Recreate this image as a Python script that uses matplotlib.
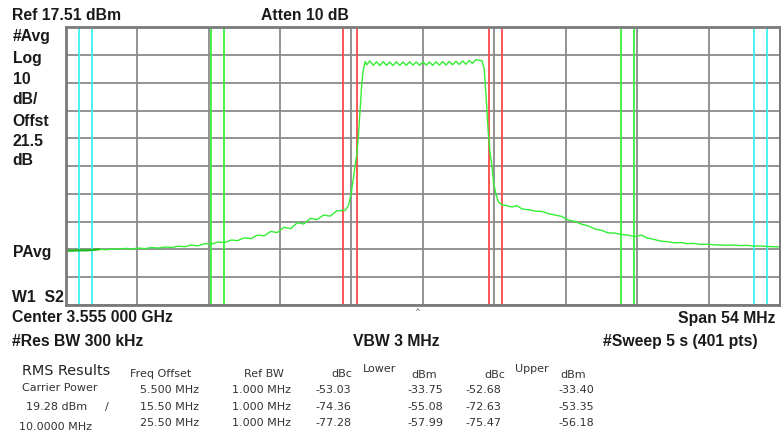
import matplotlib.pyplot as plt
import numpy as np

# trace: frequency offset from center (MHz) and level (dBm)
freq = [-27, -26.5, -26, -25.5, -25, -24.5, -24, -23.5, -23, -22.5, -22, -21.5,
        -21, -20.5, -20, -19.5, -19, -18.5, -18, -17.5, -17, -16.5, -16, -15.5,
        -15, -14.5, -14, -13.5, -13, -12.5, -12, -11.5, -11, -10.5, -10, -9.5,
        -9, -8.5, -8, -7.5, -7, -6.5, -6.25, -6.0, -5.88, -5.63, -5.45, -5.29,
        -5.12, -4.99, -4.87, -4.74, -4.61, -4.49, -4.35,
        -4.25, -4.0, -3.75, -3.5, -3.25, -3.0, -2.75, -2.5, -2.25, -2.0, -1.75,
        -1.5, -1.25, -1.0, -0.75, -0.5, -0.25, 0.0, 0.25, 0.5, 0.75, 1.0, 1.25,
        1.5, 1.75, 2.0, 2.25, 2.5, 2.75, 3.0, 3.25, 3.5, 3.75, 4.0, 4.25, 4.46,
        4.64, 4.71, 4.84, 4.96, 5.09, 5.22, 5.34, 5.52, 5.72, 5.97, 6.35, 6.73,
        7.11, 7.5, 8.0, 8.5, 9.0, 9.5, 10, 10.5, 11, 11.5, 12, 12.5, 13, 13.5,
        14, 14.5, 15, 15.5, 16, 16.5, 17, 17.5, 18, 18.5, 19, 19.5, 20, 20.5,
        21, 21.5, 22, 22.5, 23, 23.5, 24, 24.5, 25, 25.5, 26, 26.5, 27]
level = [-62.9, -62.9, -62.8, -62.8, -62.7, -62.4, -62.6, -62.3, -62.4, -62.1, -62.3, -62.0,
         -62.2, -61.8, -62.0, -61.6, -61.8, -61.3, -61.5, -60.9, -61.2, -60.4, -60.6, -59.8,
         -60.0, -59.1, -59.3, -58.3, -58.6, -57.3, -57.6, -56.0, -56.4, -54.5, -55.0, -52.9,
         -53.3, -51.3, -51.7, -50.1, -50.5, -48.5, -48.6, -48.3, -48.5, -46.7, -43.1, -38.2,
         -32.3, -28.1, -21.5, -11.9, -2.3, 2.5, 5.2,
         4.0, 5.4, 3.8, 5.1, 3.7, 5.2, 3.8, 5.0, 3.7, 5.1, 3.8,
         5.0, 3.8, 5.1, 3.9, 5.0, 3.8, 5.1, 3.9, 5.0, 3.8, 5.1, 3.9,
         5.2, 3.9, 5.2, 4.0, 5.3, 4.1, 5.4, 4.2, 5.5, 4.5, 5.9, 5.6, 5.5,
         2.5, -2.3, -11.9, -21.5, -28.1, -32.3, -38.2, -42.5, -45.4, -46.4, -46.7, -47.2,
         -46.7, -47.9, -48.2, -48.7, -48.8, -49.6, -50.1, -50.6, -51.9, -52.4, -53.4, -54.0, -55.1, -55.6,
         -56.5, -56.6, -57.1, -57.3, -57.9, -57.3, -58.4, -58.9, -59.5, -59.7, -60.1, -60.0, -60.4, -60.3,
         -60.7, -60.6, -60.8, -60.9, -61.0, -60.9, -61.1, -61.0, -61.3, -61.2, -61.4, -61.5, -61.6]

ref_level = 17.51
span = 54.0

red_marks = [-6, -5, 5, 6]
green_marks = [-16, -15, 15, 16]
cyan_marks = [-26, -25, 25, 26]

left_labels = ['#Avg', 'Log', '10', 'dB/', 'Offst', '21.5', 'dB']
left_label_y = [37, 58, 79, 100, 121, 142, 161]

offsets = ['5.500 MHz', '15.50 MHz', '25.50 MHz']
ref_bw = ['1.000 MHz', '1.000 MHz', '1.000 MHz']
lower_dbc = ['-53.03', '-74.36', '-77.28']
lower_dbm = ['-33.75', '-55.08', '-57.99']
upper_dbc = ['-52.68', '-72.63', '-75.47']
upper_dbm = ['-33.40', '-53.35', '-56.18']

W, H = 781, 435
fig = plt.figure(figsize=(W / 100, H / 100), dpi=100, facecolor='white')
ax = fig.add_axes([65.7 / W, 1 - 306 / H, (780 - 65.7) / W, (306 - 28.3) / H])

ax.set_xlim(-span / 2, span / 2)
ax.set_ylim(ref_level - 100, ref_level)
ax.set_xticks(np.linspace(-span / 2, span / 2, 11))
ax.set_yticks(np.linspace(ref_level - 100, ref_level, 11))
ax.set_xticklabels([])
ax.set_yticklabels([])
ax.tick_params(length=0)
ax.grid(color='#8a8a8a', linewidth=1.3)
ax.set_axisbelow(True)
for s in ax.spines.values():
    s.set_color('#7a7a7a')
    s.set_linewidth(2)

for m in red_marks:
    ax.axvline(m, color='#ff4a4a', linewidth=1.3)
for m in green_marks:
    ax.axvline(m, color='#3cf03c', linewidth=1.3)
for m in cyan_marks:
    ax.axvline(m, color='#3ef0f0', linewidth=1.3)

ax.plot(freq, level, color='#33ee33', linewidth=1.0)
ax.plot(freq[:6], level[:6], color='#22b822', linewidth=1.6)


def px_text(x, y, s, **kw):
    fig.text(x / W, 1 - y / H, s, va='center', **kw)


bold = dict(family='Liberation Sans', fontsize=11.3, fontweight='bold', color='#1a1a1a')
px_text(12.5, 16, 'Ref 17.51 dBm', **bold)
px_text(261, 16, 'Atten 10 dB', **bold)
for lab, y in zip(left_labels, left_label_y):
    px_text(12.5, y, lab, **bold)
px_text(12.5, 253, 'PAvg', **bold)
px_text(12.5, 297, 'W1  S2', **bold)
px_text(12.5, 318, 'Center 3.555 000 GHz', **bold)
px_text(12.5, 341.5, '#Res BW 300 kHz', **bold)
px_text(353, 341.5, 'VBW 3 MHz', **bold)
px_text(776, 318, 'Span 54 MHz', ha='right', **bold)
px_text(603, 341.5, '#Sweep 5 s (401 pts)', **bold)
px_text(418, 312, '^', ha='center', family='Liberation Sans', fontsize=6, color='#333333')

tbl = dict(family='DejaVu Sans', fontsize=8.0, color='#333333')
px_text(21.5, 371, 'RMS Results', family='DejaVu Sans', fontsize=10.4, color='#222222')
px_text(130, 374, 'Freq Offset', **tbl)
px_text(244, 374, 'Ref BW', **tbl)
px_text(352, 374, 'dBc', ha='right', **tbl)
px_text(363, 369.5, 'Lower', **tbl)
px_text(411, 375, 'dBm', **tbl)
px_text(505, 375, 'dBc', ha='right', **tbl)
px_text(515.5, 369.5, 'Upper', **tbl)
px_text(560, 375, 'dBm', **tbl)
px_text(22.5, 388, 'Carrier Power', **tbl)
px_text(26.5, 407.5, '19.28 dBm', **tbl)
px_text(105, 407.5, '/', **tbl)
px_text(19, 427, '10.0000 MHz', **tbl)

row_y = [390, 407, 423.5]
for i, y in enumerate(row_y):
    px_text(199.5, y, offsets[i], ha='right', **tbl)
    px_text(291.5, y, ref_bw[i], ha='right', **tbl)
    px_text(351.5, y, lower_dbc[i], ha='right', **tbl)
    px_text(443.5, y, lower_dbm[i], ha='right', **tbl)
    px_text(501.5, y, upper_dbc[i], ha='right', **tbl)
    px_text(594.5, y, upper_dbm[i], ha='right', **tbl)

fig.savefig('out.png', dpi=100, facecolor='white')
